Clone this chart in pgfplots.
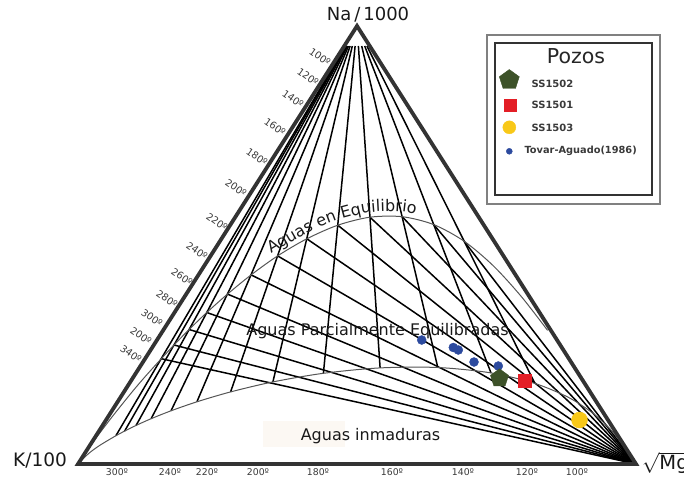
\documentclass[border=0pt]{standalone}
\usepackage{pgfplots}
\pgfplotsset{compat=1.18}
\usepackage{fontspec}
\setmainfont{DejaVu Sans}
\usetikzlibrary{decorations.text}
\definecolor{edgec}{HTML}{333333}
\definecolor{curvec}{HTML}{555555}
\definecolor{labc}{HTML}{3A3A3A}
\definecolor{pentc}{HTML}{3D5229}
\definecolor{redc}{HTML}{E31E26}
\definecolor{yelc}{HTML}{F8C818}
\definecolor{bluec}{HTML}{2C4A9E}
\definecolor{faint}{HTML}{FCF8F3}
\tikzset{fan/.style={black,line width=1.5pt},
  crv/.style={curvec,line width=1pt,smooth},
  lab/.style={font=\fontsize{9.3}{10}\selectfont,text=labc},
  slab/.style={font=\fontsize{9.8}{10}\selectfont,text=labc,rotate=-35}}
\begin{document}
\begin{tikzpicture}
\begin{axis}[width=684pt,height=477pt,scale only axis,
  xmin=0,xmax=684,ymin=0,ymax=477,y dir=reverse,hide axis,clip=false]
% faint box behind immature label
\addplot[draw=none,fill=faint] coordinates {(263,421) (345,421) (345,447) (263,447)} -- cycle;
% Na fan (tKM isotherms)
\addplot[fan] coordinates {(366.95,46) (535.0,383.5)};
\addplot[fan] coordinates {(364.7,46) (491.0,372.9)};
\addplot[fan] coordinates {(361.7,46) (437.8,367.5)};
\addplot[fan] coordinates {(358.4,46) (380.1,367.9)};
\addplot[fan] coordinates {(355.1,46) (323.4,373.3)};
\addplot[fan] coordinates {(352.3,46) (272.9,381.9)};
\addplot[fan] coordinates {(350.1,46) (230.6,391.9)};
\addplot[fan] coordinates {(348.5,46) (196.9,401.8)};
\addplot[fan] coordinates {(347.3,46) (171.0,410.8)};
\addplot[fan] coordinates {(346.5,46) (151.1,418.7)};
\addplot[fan] coordinates {(345.9,46) (136.1,425.4)};
\addplot[fan] coordinates {(345.5,46) (124.6,431.1)};
\addplot[fan] coordinates {(345.2,46) (115.9,435.7)};
% Mg fan (tKN isotherms)
\addplot[fan] coordinates {(636,464) (464.1,241.2)};
\addplot[fan] coordinates {(636,464) (433.7,224.6)};
\addplot[fan] coordinates {(636,464) (402.2,216.7)};
\addplot[fan] coordinates {(636,464) (369.9,217.2)};
\addplot[fan] coordinates {(636,464) (337.8,225.2)};
\addplot[fan] coordinates {(636,464) (306.8,238.8)};
\addplot[fan] coordinates {(636,464) (277.6,255.9)};
\addplot[fan] coordinates {(636,464) (251.1,274.9)};
\addplot[fan] coordinates {(636,464) (227.5,294.1)};
\addplot[fan] coordinates {(636,464) (206.8,312.5)};
\addplot[fan] coordinates {(636,464) (189.1,329.5)};
\addplot[fan] coordinates {(636,464) (174.0,345.0)};
\addplot[fan] coordinates {(636,464) (161.3,358.7)};
% full equilibrium curve
\addplot[crv] coordinates {(78,464) (84.6,454.6) (91.6,444.1) (97.8,435.6) (109.4,420.3) (119.2,407.9) (133.6,390.1) (145.7,376.0) (161.3,358.7) (174.0,345.0) (189.1,329.5) (206.8,312.5) (227.5,294.1) (251.1,274.9) (277.6,255.9) (306.8,238.8) (337.8,225.2) (369.9,217.2) (402.2,216.7) (433.7,224.6) (464.1,241.2) (493.4,265.9) (521.2,296.4) (547.6,330.4)};
% immature curve
\addplot[crv] coordinates {(78,464) (88.4,453.7) (99.7,445.4) (115.9,435.7) (124.6,431.1) (136.1,425.4) (151.1,418.7) (171.0,410.8) (196.9,401.8) (230.6,391.9) (272.9,381.9) (323.4,373.3) (380.1,367.9) (437.8,367.5) (491.0,372.9) (535.0,383.5) (568.1,397.2) (591.3,412.0) (607.1,425.9) (617.7,437.8) (624.9,447.2) (636,464)};
% triangle
\addplot[edgec,line width=3.8pt,line join=miter] coordinates {(78,464) (357,26) (636,464)} -- cycle;
% data
\addplot[only marks,mark=*,mark size=4.5pt,bluec] coordinates {(421.7,340) (453.3,347.5) (458.3,350) (474,362) (498.3,366)};
\addplot[only marks,mark=pentagon*,mark size=9.5pt,pentc] coordinates {(499.5,378.3)};
\addplot[only marks,mark=square*,mark size=6.5pt,redc] coordinates {(524.3,380.5)};
\addplot[only marks,mark=*,mark size=8pt,yelc] coordinates {(579.5,420)};
% legend
\addplot[gray,line width=1.3pt] coordinates {(487,35) (660,35) (660,204) (487,204)} -- cycle;
\addplot[black!80,line width=1.3pt] coordinates {(495,43) (652,43) (652,195) (495,195)} -- cycle;
\addplot[only marks,mark=pentagon*,mark size=10.5pt,pentc] coordinates {(509.3,80)};
\addplot[only marks,mark=square*,mark size=6pt,redc] coordinates {(510,105)};
\addplot[only marks,mark=*,mark size=6.5pt,yelc] coordinates {(509.3,127.3)};
\addplot[only marks,mark=*,mark size=3pt,bluec] coordinates {(509.3,151.3)};
\node[font=\fontsize{20.5}{22}\selectfont,text=black!85] at (axis cs:576,56) {Pozos};
\node[anchor=west,font=\bfseries\fontsize{10}{11}\selectfont,text=labc] at (axis cs:528,84) {SS1502};
\node[anchor=west,font=\bfseries\fontsize{10}{11}\selectfont,text=labc] at (axis cs:528,105) {SS1501};
\node[anchor=west,font=\bfseries\fontsize{10}{11}\selectfont,text=labc] at (axis cs:528,127.7) {SS1503};
\node[anchor=west,font=\bfseries\fontsize{9.8}{11}\selectfont,text=labc] at (axis cs:521,150.7) {Tovar-Aguado(1986)};
% vertex labels
\node[font=\fontsize{18}{20}\selectfont,text=black!90] at (axis cs:368,15) {Na\,/\,1000};
\node[font=\fontsize{18.5}{20}\selectfont,text=black!90] at (axis cs:40,460) {K/100};
\node[anchor=west,font=\fontsize{19.5}{20}\selectfont,text=black!90,inner sep=0pt] at (axis cs:642,463) {$\sqrt{\mbox{Mg}}$};
% region labels
\node[font=\fontsize{16}{18}\selectfont,text=black!90] at (axis cs:377.5,331) {Aguas Parcialmente Equilibradas};
\node[font=\fontsize{16}{18}\selectfont,text=black!90] at (axis cs:370.5,436) {Aguas inmaduras};
\path[decorate,decoration={text along path,text color=black!90,text align=left,
  text={|\fontsize{16}{18}\selectfont|Aguas en Equilibrio}}]
  plot[smooth] coordinates {(271,254) (307,233) (338,220) (370,212.5) (402,212) (435,218)};
% base labels (tKM)
\node[lab] at (axis cs:117,472) {300º};
\node[lab] at (axis cs:170,472) {240º};
\node[lab] at (axis cs:207,472) {220º};
\node[lab] at (axis cs:258,472) {200º};
\node[lab] at (axis cs:318,472) {180º};
\node[lab] at (axis cs:392,472) {160º};
\node[lab] at (axis cs:463,472) {140º};
\node[lab] at (axis cs:527,472) {120º};
\node[lab] at (axis cs:577,472) {100º};
% side labels (tKN)
\node[slab] at (axis cs:320,57) {100º};
\node[slab] at (axis cs:308,77) {120º};
\node[slab] at (axis cs:293,99) {140º};
\node[slab] at (axis cs:275,127) {160º};
\node[slab] at (axis cs:257,157) {180º};
\node[slab] at (axis cs:236,188) {200º};
\node[slab] at (axis cs:217,222) {220º};
\node[slab] at (axis cs:197,251) {240º};
\node[slab] at (axis cs:182,277) {260º};
\node[slab] at (axis cs:167,299) {280º};
\node[slab] at (axis cs:152,318) {300º};
\node[slab] at (axis cs:141,336) {200º};
\node[slab] at (axis cs:131,354) {340º};
\end{axis}
\pgfresetboundingbox
\useasboundingbox (0,0) rectangle (684pt,477pt);
\end{tikzpicture}
\end{document}
